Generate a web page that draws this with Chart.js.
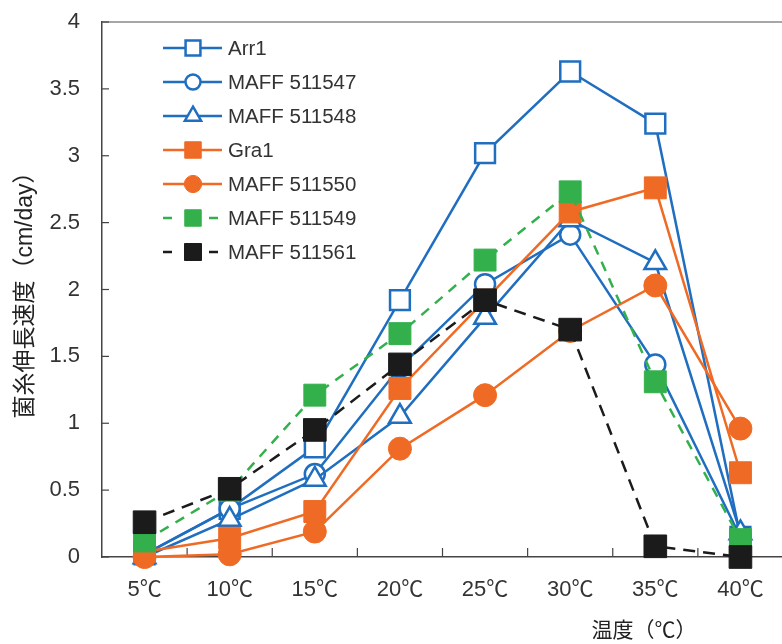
<!DOCTYPE html>
<html>
<head>
<meta charset="utf-8">
<script src="https://cdn.jsdelivr.net/npm/chart.js@4.4.1/dist/chart.umd.min.js"></script>
<style>
  html, body { margin: 0; padding: 0; background: #fff; overflow: hidden; }
  #wrap { position: relative; width: 800px; height: 644px; }
</style>
</head>
<body>
<div id="wrap"><canvas id="chart"></canvas></div>
<script>
/* ---- data (cm/day) ---- */
const temps = ['5℃', '10℃', '15℃', '20℃', '25℃', '30℃', '35℃', '40℃'];
const arr1      = [0.02, 0.36, 0.82, 1.92, 3.02, 3.63, 3.24, 0.15];
const maff547   = [0.02, 0.36, 0.62, 1.42, 2.04, 2.41, 1.44, 0.15];
const maff548   = [0.00, 0.28, 0.58, 1.05, 1.79, 2.52, 2.20, 0.18];
const gra1      = [0.04, 0.14, 0.34, 1.26, 1.92, 2.58, 2.76, 0.63];
const maff550   = [0.00, 0.02, 0.19, 0.81, 1.21, 1.69, 2.03, 0.96];
const maff549   = [0.12, 0.50, 1.21, 1.67, 2.22, 2.73, 1.31, 0.13];
const maff561   = [0.26, 0.51, 0.95, 1.44, 1.92, 1.70, 0.08, 0.00];
const yTicks = [0, 0.5, 1, 1.5, 2, 2.5, 3, 3.5, 4];

const FONT = "'Liberation Sans', 'Noto Sans CJK JP', sans-serif";
const BLUE = '#1f6ec0', ORANGE = '#ef6a24', GREEN = '#33b04c', BLACK = '#1b1b1b';

function series(label, data, color, style, opts) {
  return Object.assign({
    label, data,
    borderColor: color, borderWidth: 2.5,
    pointStyle: style, pointBackgroundColor: color, pointBorderColor: color,
    pointBorderWidth: 1, pointRadius: 11,
    tension: 0, fill: false, clip: false,
  }, opts || {});
}

const datasets = [
  series('Arr1', arr1, BLUE, 'rect', { pointBackgroundColor: '#fff', pointBorderWidth: 2.5, pointRadius: 14, order: 7 }),
  series('MAFF 511547', maff547, BLUE, 'circle', { pointBackgroundColor: '#fff', pointBorderWidth: 2.5, pointRadius: 10, order: 6 }),
  series('MAFF 511548', maff548, BLUE, 'triangle', { pointBackgroundColor: '#fff', pointBorderWidth: 2.5, pointRadius: 12.5, order: 5 }),
  series('Gra1', gra1, ORANGE, 'rect', { pointRadius: 15.5, order: 4 }),
  series('MAFF 511550', maff550, ORANGE, 'circle', { pointRadius: 11.5, order: 3 }),
  series('MAFF 511549', maff549, GREEN, 'rect', { pointRadius: 15.5, borderDash: [10, 8], order: 2 }),
  series('MAFF 511561', maff561, BLACK, 'rect', { pointRadius: 16, borderDash: [12, 8], order: 1 }),
];

/* frame top line + inward ticks, legend and x title */
const frame = {
  id: 'frame',
  beforeDatasetsDraw(chart) {
    const { ctx, chartArea: a, scales: { x, y } } = chart;
    ctx.save();
    ctx.strokeStyle = '#8a8a8a';
    ctx.lineWidth = 1.5;
    ctx.beginPath(); ctx.moveTo(a.left, a.top); ctx.lineTo(a.right, a.top); ctx.stroke();
    ctx.strokeStyle = '#444';
    ctx.lineWidth = 1.2;
    yTicks.forEach((v) => {
      const py = y.getPixelForValue(v);
      ctx.beginPath(); ctx.moveTo(a.left, py); ctx.lineTo(a.left + 7, py); ctx.stroke();
    });
    const step = x.getPixelForValue(1) - x.getPixelForValue(0);
    for (let i = 1; i < temps.length; i++) {
      const px = x.getPixelForValue(i) - step / 2;
      ctx.beginPath(); ctx.moveTo(px, a.bottom); ctx.lineTo(px, a.bottom - 9); ctx.stroke();
    }
    ctx.restore();
  },
  afterDraw(chart) {
    const { ctx } = chart;
    ctx.save();
    chart.data.datasets.forEach((ds, i) => {
      const ly = 48 + i * 34;
      ctx.strokeStyle = ds.borderColor;
      ctx.lineWidth = ds.borderWidth;
      ctx.setLineDash(ds.borderDash ? [9, 14] : []);
      ctx.beginPath(); ctx.moveTo(163, ly); ctx.lineTo(222, ly); ctx.stroke();
      ctx.setLineDash([]);
      ctx.fillStyle = ds.pointBackgroundColor;
      ctx.lineWidth = ds.pointBorderWidth;
      Chart.helpers.drawPoint(ctx, { pointStyle: ds.pointStyle, radius: ds.pointRadius * 0.75, borderWidth: ds.pointBorderWidth, rotation: 0 }, 193, ly);
      ctx.fillStyle = '#333';
      ctx.font = '20.5px ' + FONT;
      ctx.textBaseline = 'middle';
      ctx.textAlign = 'left';
      ctx.fillText(ds.label, 228, ly + 1);
    });
    ctx.fillStyle = '#222';
    ctx.font = '21px ' + FONT;
    ctx.textAlign = 'center';
    ctx.fillText('温度（℃）', 644, 631);
    ctx.restore();
  },
};

new Chart(document.getElementById('chart'), {
  type: 'line',
  data: { labels: temps, datasets },
  options: {
    responsive: true,
    maintainAspectRatio: false,
    animation: false,
    layout: { padding: { top: 22, right: 9, left: 0, bottom: 0 } },
    plugins: { legend: { display: false }, tooltip: { enabled: false } },
    scales: {
      x: {
        offset: true,
        grid: { display: false, drawTicks: false },
        border: { display: true, color: '#444', width: 1.5 },
        ticks: { color: '#333', font: { size: 22, family: FONT }, padding: 20, maxRotation: 0 },
        afterFit: (s) => { s.height = 87; s.paddingLeft = 0; s.paddingRight = 0; },
      },
      y: {
        min: 0, max: 4,
        grid: { display: false, drawTicks: false },
        border: { display: true, color: '#444', width: 1.5 },
        ticks: { stepSize: 0.5, color: '#333', font: { size: 22, family: FONT }, padding: 22, callback: (v) => String(v) },
        title: { display: true, text: '菌糸伸長速度（cm/day）', color: '#222', font: { size: 23, family: FONT }, padding: { top: 12, bottom: 0 } },
        afterFit: (s) => { s.width = 102; s.paddingTop = 0; s.paddingBottom = 0; },
      },
    },
  },
  plugins: [frame],
});
</script>
</body>
</html>
